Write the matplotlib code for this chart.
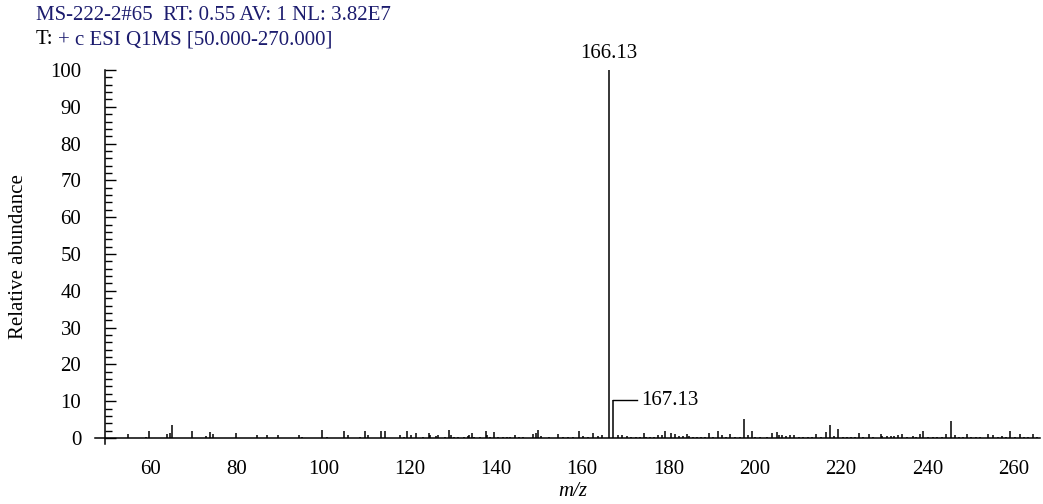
import numpy as np
import matplotlib
matplotlib.use("Agg")
import matplotlib.pyplot as plt
from matplotlib.ticker import MultipleLocator

plt.rcParams['font.family'] = ['Liberation Serif', 'DejaVu Serif']

# ---- data ----
mz = [54.7, 58.9, 59.7, 63.9, 64.5, 64.9, 69.6, 72.8, 73.7, 74.5,
      79.7, 84.6, 86.9, 89.4, 94.4, 95.0, 99.8, 100.8, 104.7, 105.8,
      108.6, 109.7, 110.3, 113.3, 114.4, 117.8, 118.6, 119.5, 120.4, 121.6,
      123.1, 124.4, 124.8, 126.2, 126.7, 128.1, 129.1, 129.6, 130.3, 131.2,
      132.6, 133.5, 133.8, 134.4, 135.0, 136.4, 137.6, 137.9, 138.7, 139.6,
      140.6, 141.6, 142.5, 143.3, 144.4, 145.3, 146.4, 148.5, 149.2, 149.7,
      150.5, 152.2, 154.5, 155.6, 156.8, 157.9, 159.3, 160.3, 161.4, 162.6,
      163.6, 164.5, 166.13, 167.13, 168.3, 169.3, 170.3, 171.3, 172.4, 173.4,
      174.3, 174.9, 175.7, 176.6, 177.6, 178.4, 179.3, 180.5, 181.5, 182.5,
      183.3, 184.3, 184.8, 185.6, 186.5, 187.5, 188.5, 189.4, 190.4, 191.4,
      192.3, 193.3, 194.3, 195.4, 196.6, 197.6, 198.5, 199.3, 200.0, 201.2,
      202.8, 204.1, 205.1, 205.6, 206.4, 207.2, 208.2, 209.2, 210.2, 211.2,
      212.3, 213.3, 214.3, 215.3, 216.4, 217.5, 218.4, 219.4, 220.4, 221.3,
      222.3, 223.2, 224.2, 225.1, 226.5, 227.5, 229.2, 229.6, 230.6, 231.6,
      232.3, 233.3, 234.2, 235.2, 236.6, 237.4, 238.4, 239.1, 240.2, 241.2,
      242.3, 243.3, 244.3, 245.4, 246.4, 247.4, 248.2, 249.1, 250.1, 251.2,
      252.3, 254.1, 255.3, 256.3, 257.4, 258.2, 259.1, 260.3, 261.5, 262.4,
      263.4, 264.4, 265.5]
abundance = [1.0, 0.4, 1.9, 1.1, 1.4, 3.4, 2.0, 0.5, 1.6, 1.1,
             1.3, 0.9, 0.9, 0.9, 0.7, 0.2, 2.2, 0.3, 1.8, 0.7,
             0.4, 1.8, 0.9, 1.8, 1.8, 0.9, 0.3, 1.8, 0.7, 1.3,
             0.4, 1.3, 0.9, 0.5, 0.9, 0.3, 2.3, 0.9, 0.4, 0.3,
             0.4, 0.5, 0.9, 1.3, 0.4, 0.3, 2.0, 0.9, 0.4, 1.6,
             0.4, 0.4, 0.4, 0.4, 0.9, 0.4, 0.2, 1.1, 1.3, 2.2,
             0.5, 0.3, 1.1, 0.3, 0.4, 0.3, 1.8, 0.5, 0.4, 1.3,
             0.5, 0.9, 100.0, 10.3, 0.9, 0.7, 0.5, 0.4, 0.4, 0.3,
             1.3, 0.4, 0.3, 0.3, 0.7, 0.7, 1.8, 1.4, 1.1, 0.5,
             0.5, 1.1, 0.5, 0.3, 0.3, 0.3, 0.3, 1.3, 0.4, 2.0,
             0.7, 0.3, 1.1, 0.3, 0.3, 5.2, 0.9, 1.8, 0.3, 0.3,
             0.3, 1.3, 1.6, 0.9, 0.7, 0.5, 0.7, 0.9, 0.3, 0.3,
             0.3, 0.3, 1.1, 0.3, 1.6, 3.5, 0.5, 2.4, 0.3, 0.3,
             0.3, 0.3, 1.3, 0.3, 1.1, 0.3, 1.1, 0.5, 0.5, 0.5,
             0.5, 0.7, 1.1, 0.3, 0.5, 0.4, 1.1, 1.8, 0.3, 0.3,
             0.3, 0.3, 1.1, 4.6, 0.7, 0.3, 0.3, 1.1, 0.3, 0.3,
             0.3, 1.1, 0.7, 0.3, 0.5, 0.3, 1.8, 0.3, 1.1, 0.3,
             0.3, 1.1, 0.3]
labelled = [166.13, 167.13]

header1 = "MS-222-2#65  RT: 0.55 AV: 1 NL: 3.82E7"
header2 = "+ c ESI Q1MS [50.000-270.000]"
navy = "#1c1c6e"

W, H = 1043, 504
fig = plt.figure(figsize=(W / 100, H / 100), dpi=100)
ax = fig.add_axes([95 / W, 1 - 444 / H, (1040 - 95) / W, (444 - 70) / H])

ax.vlines(mz, 0, abundance, colors="black", linewidth=1.1)

ax.set_xlim(47.1, 266.1)
ax.set_ylim(-1.63, 100)

# axes cross like the instrument printout
for s in ["top", "right"]:
    ax.spines[s].set_visible(False)
ax.spines["left"].set_position(("data", 49.4))
ax.spines["bottom"].set_position(("data", 0))
ax.spines["left"].set_linewidth(1.1)
ax.spines["bottom"].set_linewidth(1.1)

ax.yaxis.set_major_locator(MultipleLocator(10))
ax.yaxis.set_minor_locator(MultipleLocator(2))
ax.tick_params(axis="y", which="major", direction="in", length=8, width=1, pad=17, labelsize=15)
ax.tick_params(axis="y", which="minor", direction="in", length=5, width=1)
ax.set_xticks(np.arange(60, 261, 20))
ax.tick_params(axis="x", length=0, pad=16, labelsize=15)

ax.set_ylabel("Relative abundance", fontsize=15, labelpad=16)
fig.text(573 / W, 1 - 492 / H, "m/z", fontsize=15, style="italic", ha="center", va="center")

# peak labels
top = labelled[0]
ax.annotate(f"{top:.2f}", xy=(top, 100), xytext=(0, 5), textcoords="offset points",
            ha="center", va="bottom", fontsize=15)
iso = labelled[1]
iso_h = abundance[mz.index(iso)]
ax.plot([iso, iso + 5.6], [iso_h, iso_h], color="black", linewidth=1.0)
ax.annotate(f"{iso:.2f}", xy=(iso + 5.6, iso_h), xytext=(3, 0), textcoords="offset points",
            ha="left", va="center", fontsize=15)

# header lines
fig.text(36 / W, 1 - 15 / H, header1, color=navy, fontsize=15, va="center", ha="left")
fig.text(36 / W, 1 - 40 / H, "T:", color="black", fontsize=15, va="center", ha="left")
fig.text(58 / W, 1 - 40 / H, header2, color=navy, fontsize=15, va="center", ha="left")

fig.savefig("out.png", dpi=100)
